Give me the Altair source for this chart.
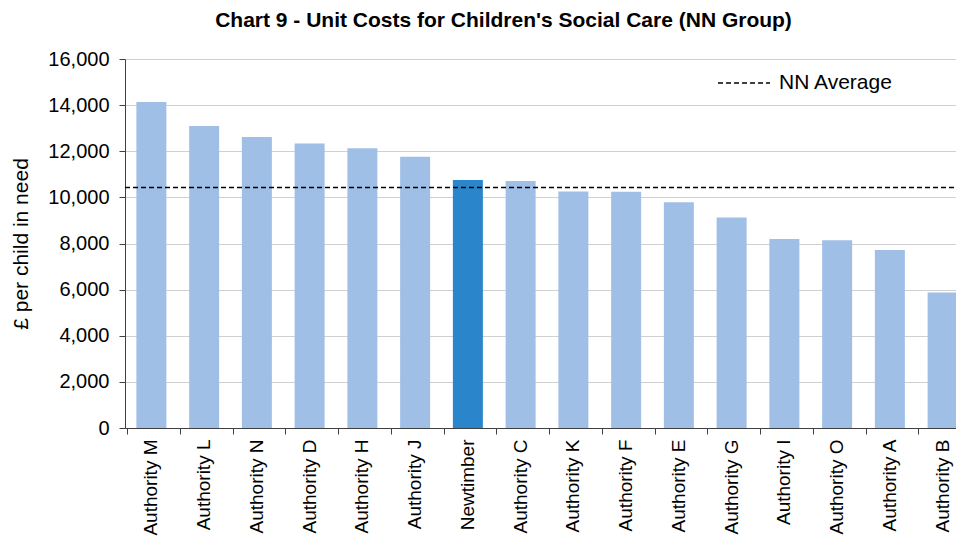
import altair as alt
import pandas as pd

authorities = ["Authority M", "Authority L", "Authority N", "Authority D", "Authority H",
               "Authority J", "Newtimber", "Authority C", "Authority K", "Authority F",
               "Authority E", "Authority G", "Authority I", "Authority O", "Authority A",
               "Authority B"]
unit_costs = [14140, 13100, 12620, 12340, 12130, 11760, 10750, 10710, 10250, 10240,
              9790, 9130, 8200, 8140, 7720, 5870]
highlight = "Newtimber"
nn_average = 10430
avg_label = "NN Average"

bars_df = pd.DataFrame({
    "authority": authorities,
    "cost": unit_costs,
    "is_self": ["yes" if a == highlight else "no" for a in authorities],
})
avg_df = pd.DataFrame({"series": [avg_label], "value": [nn_average]})

FONT = "Liberation Sans"

bars = alt.Chart(bars_df).mark_bar(size=30).encode(
    x=alt.X("authority:N", sort=authorities, title=None,
            scale=alt.Scale(range=[0, 844]),
            axis=alt.Axis(labelAngle=-90, labelFontSize=19, labelColor="#000000",
                          labelPadding=5, bandPosition=0, tickSize=6,
                          tickColor="#404040", domainColor="#404040",
                          labelFont=FONT, labelAlign="right", labelBaseline="middle")),
    y=alt.Y("cost:Q", title="£ per child in need",
            scale=alt.Scale(domain=[0, 16000], nice=False),
            axis=alt.Axis(values=list(range(0, 16001, 2000)), format=",.0f",
                          labelFontSize=20, labelColor="#000000", labelFont=FONT,
                          labelPadding=10, tickSize=6, tickColor="#404040",
                          domainColor="#404040", gridColor="#d0d0d0",
                          titleFontSize=21, titleFontWeight="normal",
                          titleColor="#000000", titleFont=FONT, titlePadding=16)),
    color=alt.Color("is_self:N", scale=alt.Scale(domain=["no", "yes"],
                                                 range=["#a0bfe6", "#2a85ca"]),
                    legend=None),
)

avg_rule = alt.Chart(avg_df).mark_rule(strokeDash=[5, 3], strokeWidth=1.5).encode(
    y="value:Q",
    stroke=alt.Stroke("series:N", scale=alt.Scale(domain=[avg_label], range=["#000000"]),
                      legend=alt.Legend(title=None, orient="none", legendX=592, legendY=-3,
                                        symbolType="stroke", symbolSize=2700,
                                        symbolStrokeWidth=1.5, symbolDash=[5, 3],
                                        labelFontSize=21, labelFont=FONT,
                                        labelColor="#000000", labelOffset=8)),
)

chart = alt.layer(bars, avg_rule).resolve_scale(color="independent").properties(
    width=829, height=369,
    autosize=alt.AutoSizeParams(type="none"),
    padding={"left": 117, "top": 51, "right": 2, "bottom": 113},
    title=alt.TitleParams("Chart 9 - Unit Costs for Children's Social Care (NN Group)",
                          fontSize=21, fontWeight="bold", font=FONT, color="#000000",
                          anchor="middle", dx=-36, offset=18),
).configure_view(stroke=None).configure_axis(grid=True).configure_axisX(grid=False)

chart.save("out.html", embed_options={"renderer": "svg", "actions": False})
